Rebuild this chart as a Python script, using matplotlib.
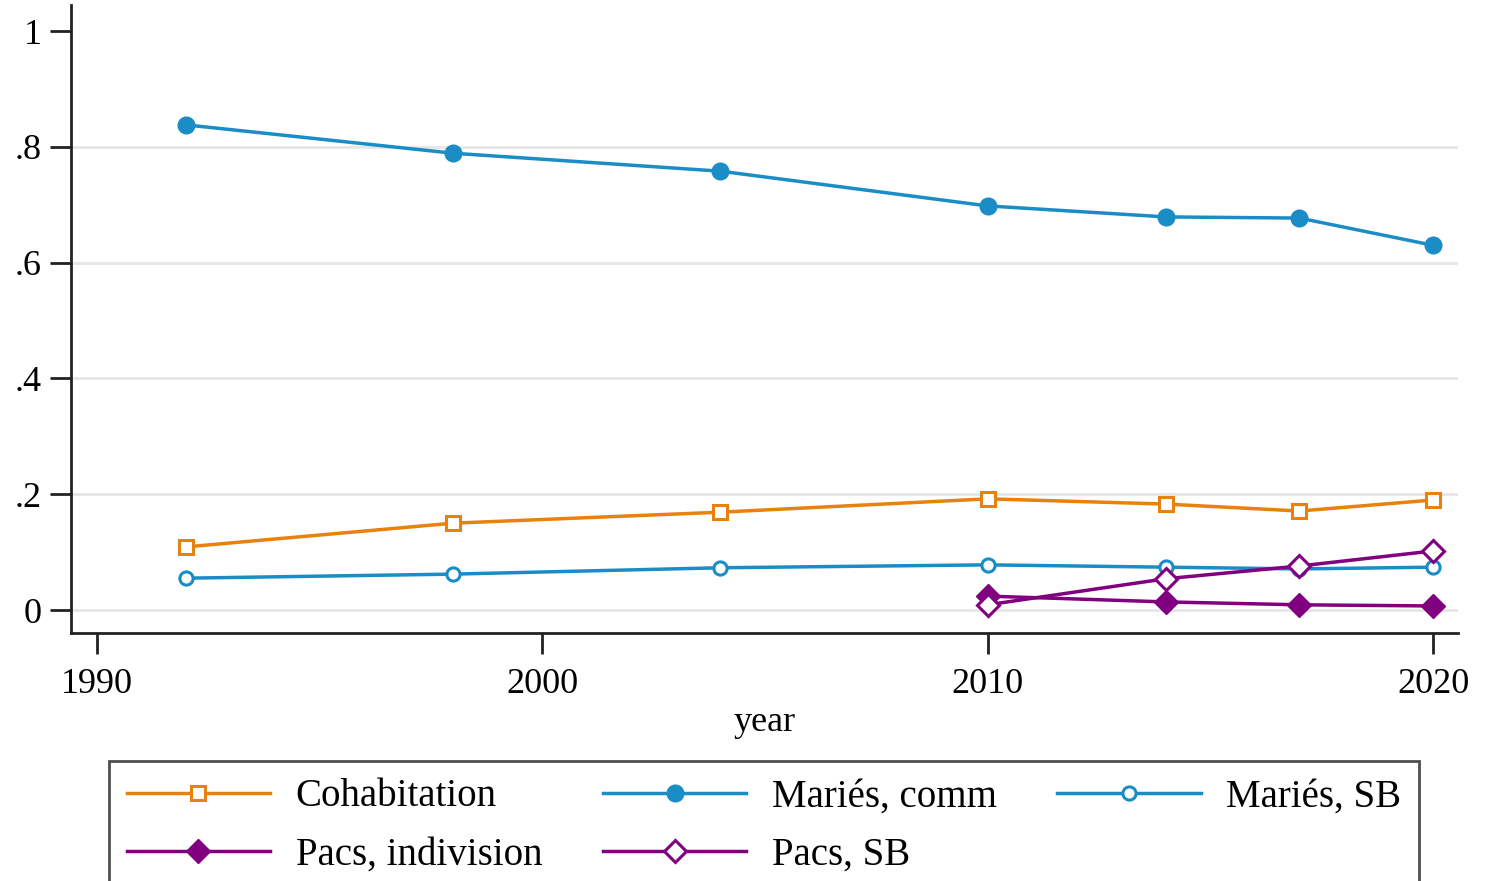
import matplotlib
matplotlib.use("Agg")
import matplotlib.pyplot as plt

plt.rcParams["font.family"] = ["Liberation Serif", "DejaVu Serif"]

# data
years_all = [1992, 1998, 2004, 2010, 2014, 2017, 2020]
years_pacs = [2010, 2014, 2017, 2020]
cohabitation = [0.109, 0.150, 0.169, 0.192, 0.183, 0.171, 0.190]
maries_comm = [0.838, 0.789, 0.758, 0.698, 0.679, 0.677, 0.630]
maries_sb = [0.055, 0.062, 0.073, 0.078, 0.074, 0.071, 0.074]
pacs_indiv = [0.024, 0.014, 0.009, 0.007]
pacs_sb = [0.009, 0.054, 0.076, 0.102]

xticks = [1990, 2000, 2010, 2020]
yticks = [0, 0.2, 0.4, 0.6, 0.8, 1]
ytick_labels = ["0", ".2", ".4", ".6", ".8", "1"]

orange = "#E8820C"
blue = "#1A8CC6"
purple = "#800080"

fig = plt.figure(figsize=(14.94, 8.81), dpi=100)
ax = fig.add_axes([0.0475, 0.2815, 0.9284, 0.7128])

for y in yticks[:-1]:
    ax.axhline(y, color="#e6e6e6", lw=2, zorder=0)

lw = 2.5
l1, = ax.plot(years_all, cohabitation, color=orange, lw=lw, marker="s", ms=10,
              mfc="white", mec=orange, mew=2.2, label="Cohabitation")
l2, = ax.plot(years_all, maries_comm, color=blue, lw=lw, marker="o", ms=12,
              label="Mariés, comm")
l3, = ax.plot(years_all, maries_sb, color=blue, lw=lw, marker="o", ms=9.5,
              mfc="white", mec=blue, mew=2.2, label="Mariés, SB")
l4, = ax.plot(years_pacs, pacs_indiv, color=purple, lw=lw, marker="D", ms=12.5,
              label="Pacs, indivision")
l5, = ax.plot(years_pacs, pacs_sb, color=purple, lw=lw, marker="D", ms=11.5,
              mfc="white", mec=purple, mew=2.2, label="Pacs, SB")

ax.set_xlim(1989.42, 2020.56)
ax.set_ylim(-0.0397, 1.045)
ax.set_xticks(xticks)
ax.set_yticks(yticks)
ax.set_yticklabels(ytick_labels)
ax.tick_params(axis="both", labelsize=26, length=15, width=2, color="#222222")
ax.tick_params(axis="x", pad=10)
ax.tick_params(axis="y", pad=6)
ax.spines["top"].set_visible(False)
ax.spines["right"].set_visible(False)
ax.spines["left"].set_linewidth(2)
ax.spines["bottom"].set_linewidth(2)
ax.spines["left"].set_color("#222222")
ax.spines["bottom"].set_color("#222222")
ax.set_xlabel("year", fontsize=26, labelpad=4)

handles = [l1, l4, l2, l5, l3]
leg = fig.legend(handles=handles, ncol=3, loc="upper left",
                 bbox_to_anchor=(109 / 1494, 1 - 761 / 881),
                 fontsize=28, frameon=True, fancybox=False,
                 handlelength=3.7, handletextpad=0.65, columnspacing=1.55,
                 borderpad=0.45, labelspacing=0.55, borderaxespad=0)
leg.get_frame().set_edgecolor("#222222")
leg.get_frame().set_linewidth(2)

fig.savefig("out.png", dpi=100)
